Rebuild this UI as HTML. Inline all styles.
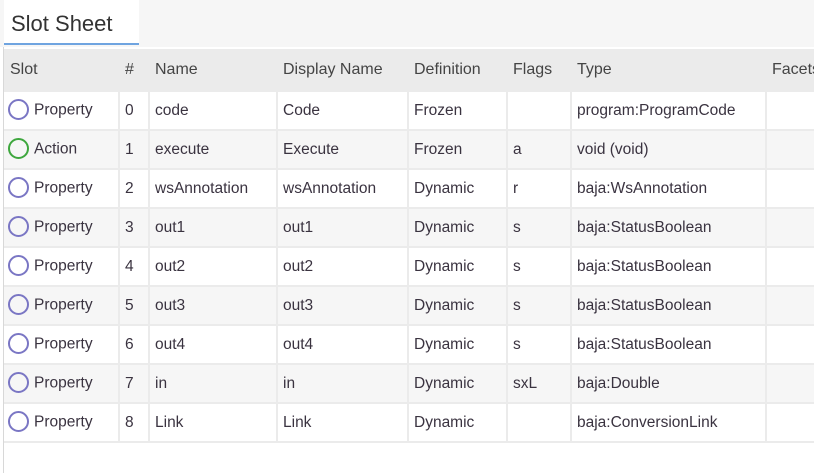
<!DOCTYPE html>
<html><head><style>
body{margin:0;width:814px;height:473px;background:#fff;font-family:"Liberation Sans",sans-serif;color:#3a3340;overflow:hidden;position:relative}
.top{position:absolute;left:0;top:0;width:814px;height:47px;background:#f6f6f6}
.tab{position:absolute;left:4px;top:0;width:135px;height:45px;background:#fff;border-bottom:2px solid #6fa4e0;font-size:22px;line-height:47px;padding-left:7px;box-sizing:border-box;color:#333}
.lb{position:absolute;left:3px;top:47px;width:1px;height:426px;background:#d8d8d8}
.wrap{position:absolute;left:4px;top:49px;width:830px}
table{border-collapse:collapse;table-layout:fixed;font-size:15.5px;width:822px}
td{height:37px;border:2px solid #ebebeb;border-top:0;padding:0 0 0 5px;white-space:nowrap;overflow:hidden;box-sizing:border-box}
tr{height:39px}
tr.h td{background:#ebebeb;height:42px;border-color:#ebebeb;color:#444;font-size:16px}
tr.g td{background:#f6f6f6}
td:first-child{border-left:0;padding-left:4px}
.c{display:inline-block;width:17px;height:17px;border:2.5px solid #7a76c4;border-radius:50%;vertical-align:middle;margin-right:5px;position:relative;top:-1px}
.c.a{border-color:#3ea73e}
</style></head><body>
<div class="top"></div>
<div class="tab">Slot Sheet</div>
<div class="lb"></div>
<div class="wrap">
<table>
<colgroup><col style="width:115px"><col style="width:30px"><col style="width:128px"><col style="width:131px"><col style="width:99px"><col style="width:64px"><col style="width:195px"><col style="width:60px"></colgroup>
<tr class="h"><td style="padding-left:6px">Slot</td><td>#</td><td>Name</td><td>Display Name</td><td>Definition</td><td>Flags</td><td>Type</td><td>Facets</td></tr>
<tr><td><span class="c"></span>Property</td><td>0</td><td>code</td><td>Code</td><td>Frozen</td><td></td><td>program:ProgramCode</td><td></td></tr>
<tr class="g"><td><span class="c a"></span>Action</td><td>1</td><td>execute</td><td>Execute</td><td>Frozen</td><td>a</td><td>void (void)</td><td></td></tr>
<tr><td><span class="c"></span>Property</td><td>2</td><td>wsAnnotation</td><td>wsAnnotation</td><td>Dynamic</td><td>r</td><td>baja:WsAnnotation</td><td></td></tr>
<tr class="g"><td><span class="c"></span>Property</td><td>3</td><td>out1</td><td>out1</td><td>Dynamic</td><td>s</td><td>baja:StatusBoolean</td><td></td></tr>
<tr><td><span class="c"></span>Property</td><td>4</td><td>out2</td><td>out2</td><td>Dynamic</td><td>s</td><td>baja:StatusBoolean</td><td></td></tr>
<tr class="g"><td><span class="c"></span>Property</td><td>5</td><td>out3</td><td>out3</td><td>Dynamic</td><td>s</td><td>baja:StatusBoolean</td><td></td></tr>
<tr><td><span class="c"></span>Property</td><td>6</td><td>out4</td><td>out4</td><td>Dynamic</td><td>s</td><td>baja:StatusBoolean</td><td></td></tr>
<tr class="g"><td><span class="c"></span>Property</td><td>7</td><td>in</td><td>in</td><td>Dynamic</td><td>sxL</td><td>baja:Double</td><td></td></tr>
<tr><td><span class="c"></span>Property</td><td>8</td><td>Link</td><td>Link</td><td>Dynamic</td><td></td><td>baja:ConversionLink</td><td></td></tr>
</table>
</div>
</body></html>
